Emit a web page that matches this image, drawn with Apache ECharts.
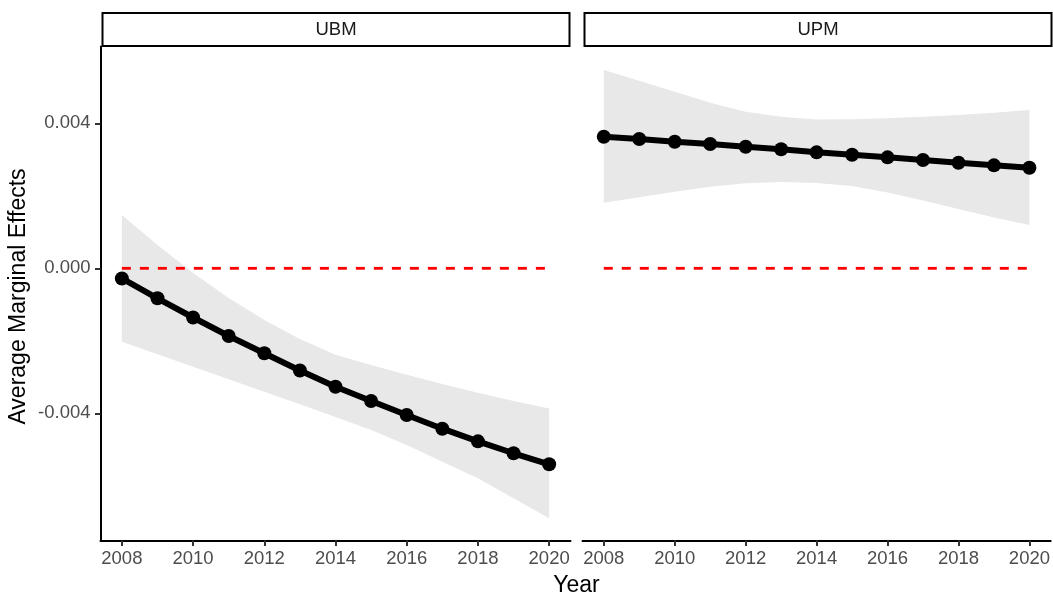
<!DOCTYPE html>
<html>
<head>
<meta charset="utf-8">
<title>Average Marginal Effects by Year</title>
<script src="https://cdn.jsdelivr.net/npm/echarts@6/dist/echarts.min.js"></script>
<style>
  html, body { margin: 0; padding: 0; background: #ffffff; }
  #chart { width: 1053px; height: 592px; }
</style>
</head>
<body>
<div id="chart"></div>
<script>
// Years on the x axis
const years = [2008, 2009, 2010, 2011, 2012, 2013, 2014, 2015, 2016, 2017, 2018, 2019, 2020];

// Panel labels
const panels = ['UBM', 'UPM'];

// UBM: average marginal effect and confidence band
const ubmEffect = [-0.000281, -0.000828, -0.001357, -0.001868, -0.002345, -0.002819, -0.003266,
                   -0.003661, -0.004047, -0.004425, -0.004775, -0.005103, -0.005407];
const ubmLower  = [-0.002025, -0.002370, -0.002714, -0.003059, -0.003404, -0.003752, -0.004102,
                   -0.004461, -0.004874, -0.005335, -0.005793, -0.006345, -0.006897];
const ubmUpper  = [0.001470, 0.000643, -0.000130, -0.000819, -0.001426, -0.001950, -0.002383,
                   -0.002668, -0.002938, -0.003192, -0.003434, -0.003661, -0.003868];

// UPM: average marginal effect and confidence band
const upmEffect = [0.003630, 0.003567, 0.003492, 0.003429, 0.003354, 0.003283, 0.003200,
                   0.003134, 0.003062, 0.002988, 0.002913, 0.002841, 0.002775];
const upmLower  = [0.001810, 0.001959, 0.002113, 0.002251, 0.002345, 0.002381, 0.002353,
                   0.002270, 0.002091, 0.001870, 0.001636, 0.001401, 0.001194];
const upmUpper  = [0.005470, 0.005175, 0.004872, 0.004568, 0.004320, 0.004182, 0.004105,
                   0.004110, 0.004138, 0.004182, 0.004229, 0.004292, 0.004367];

// Reference level drawn as a dashed line
const referenceLevel = 0;

// Tick positions
const xTicks = [2008, 2010, 2012, 2014, 2016, 2018, 2020];
const yTicks = [-0.004, 0, 0.004];

// Axis titles
const xTitle = 'Year';
const yTitle = 'Average Marginal Effects';

// ---- layout & style ----
const FONT = '"Liberation Sans", Arial, Helvetica, sans-serif';
const TICK_FONT = 18.5;
const TITLE_FONT = 23;
const gridTop = 46.5;
const gridHeight = 494;
const gridWidth = 470;
const gridLefts = [100.5, 582.5];
const stripTop = 13;
const stripBottom = 46;

const xMin = 2007.4, xMax = 2020.6;
const yMin = -0.00751, yMax = 0.00612;

const panelData = [
  { effect: ubmEffect, lower: ubmLower, upper: ubmUpper },
  { effect: upmEffect, lower: upmLower, upper: upmUpper }
];

const chart = echarts.init(document.getElementById('chart'), null, { renderer: 'canvas' });

const grids = gridLefts.map(left => ({ left: left, top: gridTop, width: gridWidth, height: gridHeight }));

const xAxes = panels.map((p, i) => ({
  type: 'value',
  gridIndex: i,
  min: xMin,
  max: xMax,
  splitLine: { show: false },
  axisLine: { show: true, onZero: false, lineStyle: { color: '#000000', width: 2 } },
  axisTick: { show: true, customValues: xTicks, length: 5.5, lineStyle: { color: '#333333', width: 2 } },
  axisLabel: {
    show: true, customValues: xTicks, margin: 9,
    color: '#4D4D4D', fontSize: TICK_FONT, fontFamily: FONT,
    formatter: v => String(v)
  }
}));

const yAxes = panels.map((p, i) => ({
  type: 'value',
  gridIndex: i,
  min: yMin,
  max: yMax,
  splitLine: { show: false },
  axisLine: { show: i === 0, onZero: false, lineStyle: { color: '#000000', width: 2 } },
  axisTick: { show: i === 0, customValues: yTicks, length: 5.5, lineStyle: { color: '#333333', width: 2 } },
  axisLabel: {
    show: i === 0, customValues: yTicks, margin: 10,
    color: '#4D4D4D', fontSize: TICK_FONT, fontFamily: FONT,
    formatter: v => v.toFixed(3)
  }
}));

const series = [];
panelData.forEach((d, i) => {
  // Confidence band as a single polygon: upper edge forward, lower edge back
  series.push({
    type: 'custom',
    name: panels[i] + ' band',
    xAxisIndex: i,
    yAxisIndex: i,
    silent: true,
    z: 1,
    encode: { x: 0, y: [1, 2] },
    data: years.map((yr, k) => [yr, d.lower[k], d.upper[k]]),
    renderItem: function (params, api) {
      if (params.dataIndex !== 0) return null;
      const pts = [];
      for (let k = 0; k < years.length; k++) pts.push(api.coord([years[k], d.upper[k]]));
      for (let k = years.length - 1; k >= 0; k--) pts.push(api.coord([years[k], d.lower[k]]));
      return {
        type: 'polygon',
        shape: { points: pts },
        style: { fill: '#E8E8E8', stroke: null }
      };
    }
  });
  // Dashed reference line across the observed years
  series.push({
    type: 'line',
    name: panels[i] + ' reference',
    xAxisIndex: i,
    yAxisIndex: i,
    silent: true,
    z: 2,
    symbol: 'none',
    data: [[years[0], referenceLevel], [years[years.length - 1], referenceLevel]],
    lineStyle: { color: '#FF0000', width: 2.8, type: [9, 9] }
  });
  // Marginal effect line with points
  series.push({
    type: 'line',
    name: panels[i],
    xAxisIndex: i,
    yAxisIndex: i,
    z: 3,
    symbol: 'circle',
    symbolSize: 14,
    showAllSymbol: true,
    data: years.map((yr, k) => [yr, d.effect[k]]),
    lineStyle: { color: '#000000', width: 6 },
    itemStyle: { color: '#000000' }
  });
});

// Facet strips and axis titles
const graphics = [];
panels.forEach((p, i) => {
  const x0 = gridLefts[i] + 2;
  const x1 = gridLefts[i] + gridWidth - 1;
  graphics.push({
    type: 'rect',
    shape: { x: x0, y: stripTop, width: x1 - x0, height: stripBottom - stripTop },
    style: { fill: '#FFFFFF', stroke: '#000000', lineWidth: 2 },
    z: 10
  });
  graphics.push({
    type: 'text',
    x: (x0 + x1) / 2,
    y: (stripTop + stripBottom) / 2 + 0.5,
    style: {
      text: p, fill: '#1A1A1A', fontSize: TICK_FONT, fontFamily: FONT,
      align: 'center', verticalAlign: 'middle'
    },
    z: 11
  });
});
graphics.push({
  type: 'text',
  x: (gridLefts[0] + gridLefts[1] + gridWidth) / 2,
  y: 585.5,
  style: {
    text: xTitle, fill: '#000000', fontSize: TITLE_FONT, fontFamily: FONT,
    align: 'center', verticalAlign: 'middle'
  },
  z: 11
});
graphics.push({
  type: 'text',
  x: 19,
  y: gridTop + gridHeight / 2 + 3,
  rotation: Math.PI / 2,
  style: {
    text: yTitle, fill: '#000000', fontSize: TITLE_FONT, fontFamily: FONT,
    align: 'center', verticalAlign: 'middle'
  },
  z: 11
});

chart.setOption({
  animation: false,
  backgroundColor: '#FFFFFF',
  grid: grids,
  xAxis: xAxes,
  yAxis: yAxes,
  series: series,
  graphic: graphics
});
</script>
</body>
</html>
